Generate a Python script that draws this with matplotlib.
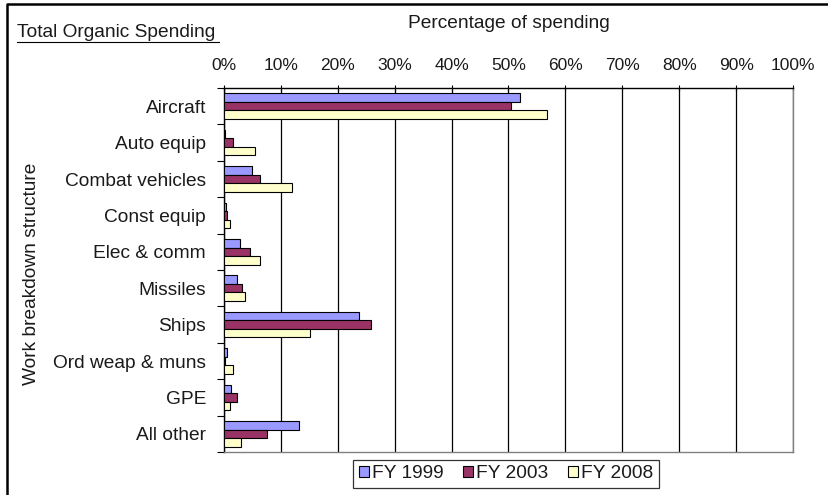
import matplotlib
matplotlib.use("Agg")
import matplotlib.pyplot as plt
from matplotlib.lines import Line2D
from matplotlib.patches import Patch
import numpy as np

plt.rcParams['font.family'] = ['Liberation Sans', 'DejaVu Sans']

categories = ["Aircraft", "Auto equip", "Combat vehicles", "Const equip", "Elec & comm",
              "Missiles", "Ships", "Ord weap & muns", "GPE", "All other"]
series_names = ["FY 1999", "FY 2003", "FY 2008"]
fy1999 = [52.1, 0.2, 5.0, 0.3, 2.8, 2.3, 23.7, 0.6, 1.2, 13.1]
fy2003 = [50.4, 1.5, 6.4, 0.6, 4.6, 3.2, 25.9, 0.1, 2.3, 7.5]
fy2008 = [56.7, 5.5, 12.0, 1.0, 6.4, 3.7, 15.1, 1.5, 1.0, 3.0]
xticks = [0, 10, 20, 30, 40, 50, 60, 70, 80, 90, 100]
colors = ["#9999FF", "#993366", "#FFFFCC"]

TXT = 13.8
NUM = 12.5
INK = "#1a1a1a"

W, H = 829, 495
fig = plt.figure(figsize=(W / 100, H / 100), dpi=100)
ax = fig.add_axes([224 / W, 1 - 452 / H, (793 - 224) / W, (452 - 88) / H])

n = len(categories)
y = np.arange(n)
bh = 0.236
for i, (vals, c) in enumerate(zip([fy1999, fy2003, fy2008], colors)):
    ax.barh(y + (i - 1) * bh, vals, height=bh, color=c, edgecolor="black",
            linewidth=0.8, zorder=3, label=series_names[i])

ax.set_xlim(0, 100)
ax.set_ylim(n - 0.5, -0.5)
ax.set_xticks(xticks)
ax.set_xticklabels([f"{v}%" for v in xticks])
ax.xaxis.tick_top()
ax.tick_params(axis="x", which="major", direction="inout", length=5, width=0.8,
               pad=8.3, labelsize=NUM, color="black", labelcolor=INK)

ax.set_yticks(y)
ax.set_yticklabels(categories)
ax.set_yticks(np.arange(n + 1) - 0.5, minor=True)
ax.tick_params(axis="y", which="major", length=0, pad=13, labelsize=TXT,
               labelcolor=INK)
ax.tick_params(axis="y", which="minor", length=5, width=0.8, direction="out")

ax.grid(axis="x", color="black", linewidth=0.9, zorder=1)
ax.spines["top"].set_color("black")
ax.spines["left"].set_color("black")
ax.spines["right"].set_color("#808080")
ax.spines["bottom"].set_color("#808080")
for s in ax.spines.values():
    s.set_linewidth(1.0)

# axis titles
fig.text(509 / W, 1 - 28 / H, "Percentage of spending", fontsize=TXT,
         ha="center", va="baseline", color=INK)
fig.text(32 / W, 1 - 274 / H, "Work breakdown structure", fontsize=TXT,
         ha="center", va="center", rotation=90, color=INK)

# underlined chart title
fig.text(17 / W, 1 - 37 / H, "Total Organic Spending", fontsize=TXT,
         ha="left", va="baseline", color=INK)
fig.add_artist(Line2D([17 / W, 219 / W], [1 - 41.5 / H, 1 - 41.5 / H],
                      color="black", linewidth=0.8))

# outer chart frame
fig.add_artist(Line2D([7 / W, 7 / W, 1.0], [0.0, 1 - 4 / H, 1 - 4 / H],
                      color="black", linewidth=1.8))

handles = [Patch(facecolor=c, edgecolor="black", linewidth=0.8) for c in colors]
leg = fig.legend(handles, series_names, loc="center", ncol=3,
                 bbox_to_anchor=(506 / W, 1 - 474 / H), fontsize=TXT,
                 frameon=True, fancybox=False, edgecolor="black",
                 handlelength=0.55, handleheight=0.55, handletextpad=0.15,
                 columnspacing=1.0, borderpad=0.3, labelcolor=INK)
leg.get_frame().set_linewidth(0.9)

fig.savefig("out.png", dpi=100)
